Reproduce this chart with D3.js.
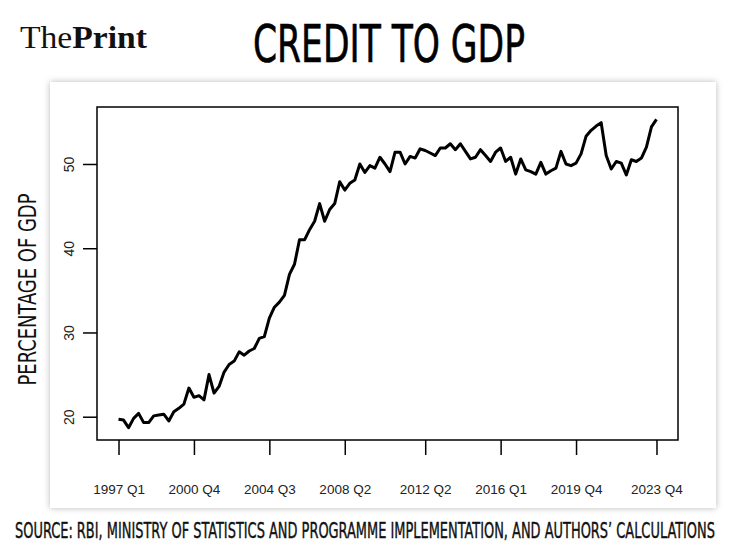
<!DOCTYPE html>
<html>
<head>
<meta charset="utf-8">
<script src="https://cdn.jsdelivr.net/npm/d3@7"></script>
<style>
  body { margin: 0; background: #fff; }
  svg { display: block; }
</style>
</head>
<body>
<svg id="chart" width="743" height="556"></svg>
<script>
// quarterly credit to GDP, 1997 Q1 .. 2023 Q4
const startYear = 1997;
const creditToGdp = [
  19.7, 19.6, 18.7, 19.8, 20.4, 19.3, 19.3, 20.1, 20.2, 20.3,
  19.5, 20.6, 21.0, 21.5, 23.4, 22.3, 22.5, 22.0, 25.0, 22.8,
  23.6, 25.3, 26.2, 26.6, 27.7, 27.3, 27.8, 28.1, 29.3, 29.5,
  31.7, 33.0, 33.6, 34.4, 36.9, 38.1, 41.0, 41.0, 42.2, 43.2,
  45.3, 43.2, 44.6, 45.3, 47.9, 46.9, 47.7, 48.1, 50.0, 49.0,
  49.8, 49.5, 50.8, 50.0, 49.1, 51.4, 51.4, 50.0, 50.9, 50.7,
  51.8, 51.6, 51.3, 51.0, 51.9, 51.9, 52.4, 51.7, 52.4, 51.5,
  50.6, 50.8, 51.7, 51.0, 50.3, 51.4, 51.9, 50.3, 50.8, 48.8,
  50.6, 49.3, 49.1, 48.8, 50.2, 48.8, 49.2, 49.5, 51.5, 50.0,
  49.8, 50.1, 51.2, 53.3, 54.0, 54.5, 54.9, 51.0, 49.4, 50.3,
  50.1, 48.7, 50.5, 50.3, 50.7, 52.0, 54.4, 55.3
];
const quarters = creditToGdp.map((d, i) =>
  `${startYear + Math.floor(i / 4)} Q${i % 4 + 1}`);
const xTickLabels = ['1997 Q1', '2000 Q4', '2004 Q3', '2008 Q2', '2012 Q2', '2016 Q1', '2019 Q4', '2023 Q4'];
const yTicks = [20, 30, 40, 50];

const title = 'CREDIT TO GDP';
const yTitle = 'PERCENTAGE OF GDP';
const source = 'SOURCE: RBI, MINISTRY OF STATISTICS AND PROGRAMME IMPLEMENTATION, AND AUTHORS\u2019 CALCULATIONS';

const svg = d3.select('#chart');
const condensed = '"Liberation Sans Narrow", "DejaVu Sans Condensed", "Roboto", sans-serif';

// squeeze a text horizontally so it spans the given width
function fitWidth(sel, x0, yBase, width) {
  const w = sel.node().getComputedTextLength();
  sel.attr('x', 0).attr('y', 0)
    .attr('transform', `translate(${x0}, ${yBase}) scale(${width / w}, 1)`);
}

// card with soft shadow
const defs = svg.append('defs');
const shadow = defs.append('filter')
  .attr('id', 'shadow')
  .attr('x', '-5%').attr('y', '-5%')
  .attr('width', '110%').attr('height', '110%');
shadow.append('feDropShadow')
  .attr('dx', 0).attr('dy', 0)
  .attr('stdDeviation', 3)
  .attr('flood-color', '#000')
  .attr('flood-opacity', 0.28);

svg.append('rect')
  .attr('x', 50).attr('y', 82)
  .attr('width', 666).attr('height', 426)
  .attr('fill', '#fff')
  .attr('filter', 'url(#shadow)');

// header
const logo = svg.append('text')
  .attr('x', 20).attr('y', 48)
  .attr('font-family', '"Liberation Serif", "DejaVu Serif", serif')
  .attr('font-size', 31)
  .attr('fill', '#111')
  .attr('textLength', 127)
  .attr('lengthAdjust', 'spacingAndGlyphs');
logo.append('tspan').text('The');
logo.append('tspan').attr('font-weight', 'bold').text('Print');

const titleText = svg.append('text')
  .attr('font-family', condensed)
  .attr('font-size', 52)
  .attr('fill', '#000')
  .attr('stroke', '#000')
  .attr('stroke-width', 0.6)
  .text(title);
fitWidth(titleText, 253, 62, 272);

const sourceText = svg.append('text')
  .attr('font-family', condensed)
  .attr('font-size', 21)
  .attr('fill', '#111')
  .attr('stroke', '#111')
  .attr('stroke-width', 0.4)
  .text(source);
fitWidth(sourceText, 15, 538, 700);

// plot area
const dim = {left: 97, top: 107, right: 678, bottom: 440};

// R style 4% padding on each side
const xPad = (creditToGdp.length - 1) * 0.04;
const x = d3.scaleLinear()
  .domain([-xPad, creditToGdp.length - 1 + xPad])
  .range([dim.left, dim.right]);

const [yMin, yMax] = d3.extent(creditToGdp);
const yPad = (yMax - yMin) * 0.04;
const y = d3.scaleLinear()
  .domain([yMin - yPad, yMax + yPad])
  .range([dim.bottom, dim.top]);

const xTickIdx = xTickLabels.map(l => quarters.indexOf(l));

const xAxis = d3.axisBottom(x)
  .tickValues(xTickIdx)
  .tickFormat(i => quarters[i])
  .tickSize(15)
  .tickPadding(29)
  .tickSizeOuter(0);

const gx = svg.append('g')
  .attr('transform', `translate(0, ${dim.bottom})`)
  .call(xAxis);
gx.select('.domain').remove();
gx.selectAll('line').attr('stroke', '#000').attr('stroke-width', 1.5);
gx.selectAll('text')
  .attr('font-family', '"Liberation Sans", Arial, sans-serif')
  .attr('font-size', 13.5)
  .attr('fill', '#222');

const yAxis = d3.axisLeft(y)
  .tickValues(yTicks)
  .tickSize(14)
  .tickSizeOuter(0);

const gy = svg.append('g')
  .attr('transform', `translate(${dim.left}, 0)`)
  .call(yAxis);
gy.select('.domain').remove();
gy.selectAll('line').attr('stroke', '#000').attr('stroke-width', 1.5);
gy.selectAll('text')
  .attr('font-family', '"Liberation Sans", Arial, sans-serif')
  .attr('font-size', 14)
  .attr('fill', '#222')
  .attr('x', 0).attr('dy', 0)
  .attr('text-anchor', 'middle')
  .attr('transform', 'translate(-23, 0) rotate(-90)');

// frame
svg.append('rect')
  .attr('x', dim.left).attr('y', dim.top)
  .attr('width', dim.right - dim.left)
  .attr('height', dim.bottom - dim.top)
  .attr('fill', 'none')
  .attr('stroke', '#000')
  .attr('stroke-width', 1.5);

// y axis title
svg.append('text')
  .attr('transform', `translate(36, ${(dim.top + dim.bottom) / 2 + 16}) rotate(-90)`)
  .attr('text-anchor', 'middle')
  .attr('font-family', condensed)
  .attr('font-size', 24)
  .attr('fill', '#111')
  .attr('textLength', 192)
  .attr('lengthAdjust', 'spacingAndGlyphs')
  .text(yTitle);

// the series
const line = d3.line()
  .x((d, i) => x(i))
  .y(d => y(d));

svg.append('path')
  .datum(creditToGdp)
  .attr('d', line)
  .attr('fill', 'none')
  .attr('stroke', '#000')
  .attr('stroke-width', 3)
  .attr('stroke-linejoin', 'round');
</script>
</body>
</html>
